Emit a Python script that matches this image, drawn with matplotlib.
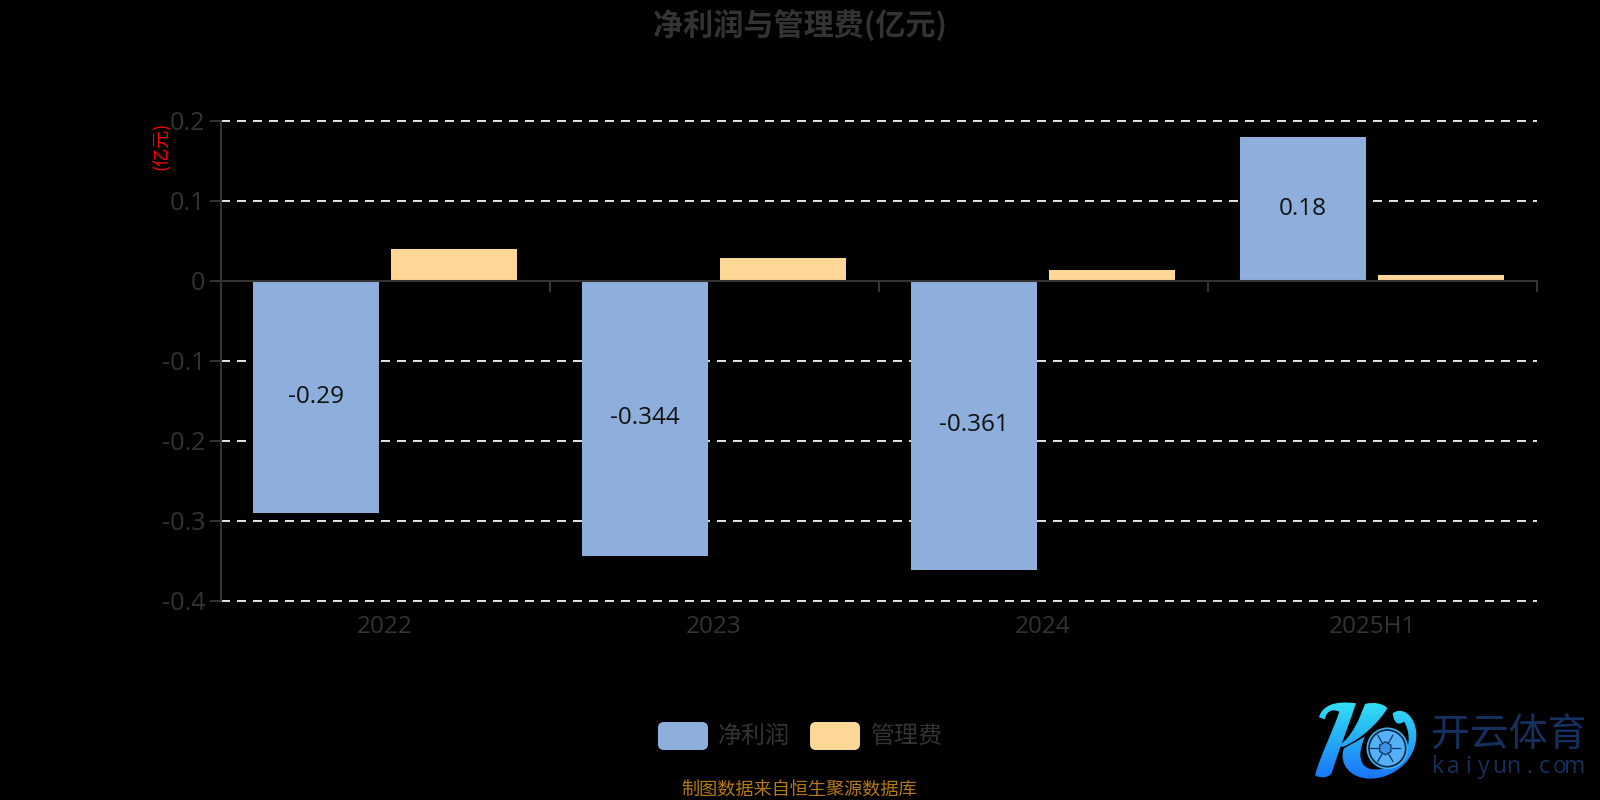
import matplotlib
matplotlib.use("Agg")
import matplotlib.pyplot as plt
from matplotlib.patches import FancyBboxPatch, Circle, RegularPolygon, PathPatch
from matplotlib.path import Path
import numpy as np

LATIN = ['Open Sans', 'Noto Sans CJK SC', 'DejaVu Sans']
CJK = ['Noto Sans CJK SC', 'DejaVu Sans']
plt.rcParams['font.family'] = LATIN

categories = ['2022', '2023', '2024', '2025H1']
net_profit = [-0.29, -0.344, -0.361, 0.18]
admin_fee = [0.04, 0.028, 0.014, 0.007]
series_names = ['净利润', '管理费']
yticks = [0.2, 0.1, 0, -0.1, -0.2, -0.3, -0.4]
ytick_labels = ['0.2', '0.1', '0', '-0.1', '-0.2', '-0.3', '-0.4']
title = '净利润与管理费(亿元)'
unit = '(亿元)'
source = '制图数据来自恒生聚源数据库'

W, H = 1600, 800
BLUE, ORANGE = '#8eaedb', '#ffd797'
GREY = '#333333'
fig = plt.figure(figsize=(16, 8), dpi=100, facecolor='black')
L, R, T, B = 220.6, 1536.6, 120.7, 600.7
ax = fig.add_axes([L / W, 1 - B / H, (R - L) / W, (B - T) / H], facecolor='black')
ax.set_xlim(0, 4)
ax.set_ylim(-0.4, 0.2)

x = np.arange(4)
bw = 125.5 / 329
gap = 12.5 / 329
ax.bar(x + 0.5 - gap / 2 - bw / 2, net_profit, bw, color=BLUE, zorder=3)
ax.bar(x + 0.5 + gap / 2 + bw / 2, admin_fee, bw, color=ORANGE, zorder=3)

for xi, v in zip(x, net_profit):
    ax.text(xi + 0.5 - gap / 2 - bw / 2, v / 2, str(v), ha='center', va='center',
            fontsize=17.5, color='#111111', zorder=4)

ax.set_yticks(yticks)
ax.set_yticklabels(ytick_labels, fontsize=18.2, color=GREY)
ax.set_xticks(x + 0.5)
ax.set_xticklabels(categories, fontsize=17.5, color=GREY)
ax.tick_params(axis='x', length=0, pad=10.5)
ax.tick_params(axis='y', length=8, width=1.5, color=GREY, pad=3)
for v in [1, 2, 3, 4]:
    ax.plot([v, v], [0, -0.0125], color=GREY, lw=1.5, zorder=2, clip_on=False)
for v in yticks:
    if v != 0:
        ax.axhline(v, color='#dddddd', lw=1.44, dashes=(4.5, 3.5), zorder=1, clip_on=False)
ax.axhline(0, color=GREY, lw=1.5, zorder=4)
for s in ['top', 'right', 'bottom']:
    ax.spines[s].set_visible(False)
ax.spines['left'].set_color(GREY)
ax.spines['left'].set_linewidth(1.5)

def fx(px): return px / W
def fy(py): return 1 - py / H

fig.text(fx(800), fy(25.5), title, ha='center', va='center', fontsize=21.7,
         fontweight='bold', color=GREY, family=CJK)
fig.text(fx(161), fy(146), unit, ha='center', va='center', rotation=90,
         fontsize=13, color='#ff0000', family=CJK)
fig.text(fx(799.5), fy(791), source, ha='center', va='center', fontsize=13.1, color='#b57a14', family=CJK)

# overlay in pixel coordinates for legend keys and logo
ov = fig.add_axes([0, 0, 1, 1], facecolor='none')
ov.set_xlim(0, W)
ov.set_ylim(H, 0)
ov.axis('off')

for px, col, name in [(658, BLUE, series_names[0]), (810, ORANGE, series_names[1])]:
    ov.add_patch(FancyBboxPatch((px + 5, 722 + 5), 40, 18,
                                boxstyle='round,pad=5,rounding_size=6', fc=col, ec='none'))
    fig.text(fx(px + 60), fy(736), name, ha='left', va='center', fontsize=17.3, color=GREY, family=CJK)

# logo wordmark
fig.text(fx(1431), fy(735), '开云体育', ha='left', va='center', fontsize=28,
         color='#15305f', family=CJK)
for i, ch in enumerate('kaiyun.com'):
    fig.text(fx(1438 + i * 15.2), fy(767), ch, ha='center', va='center', fontsize=16.5,
             color='#15305f', family='Open Sans')

# logo mark: zoom-crop coordinates mapped to pixels
def lp(xz, yz): return (1250 + xz / 3, 680 + yz / 3)
def make_path(spec):
    verts, codes = [], []
    for cmd, pts in spec:
        for p in pts:
            verts.append(lp(*p))
        codes += {'M': [Path.MOVETO], 'L': [Path.LINETO], 'C': [Path.CURVE4] * 3}[cmd]
    verts.append(verts[0]); codes.append(Path.CLOSEPOLY)
    return Path(verts, codes)

stem = make_path([('M', [(207, 112)]), ('C', [(215, 80), (250, 60), (318, 70)]),
                  ('C', [(300, 125), (270, 200), (245, 280)]),
                  ('C', [(235, 295), (205, 295), (195, 285)]),
                  ('C', [(210, 230), (250, 150), (268, 95)]),
                  ('C', [(245, 85), (228, 95), (225, 118)])])
arm = make_path([('M', [(262, 200)]), ('C', [(310, 170), (330, 110), (345, 72)]),
                 ('C', [(370, 65), (400, 70), (412, 85)]),
                 ('C', [(385, 130), (330, 180), (280, 200)])])
leg = make_path([('M', [(282, 205)]), ('C', [(265, 250), (300, 296), (360, 296)]),
                 ('C', [(430, 296), (502, 240), (499, 160)]),
                 ('C', [(496, 105), (455, 78), (428, 100)]),
                 ('C', [(432, 130), (445, 138), (462, 125)]),
                 ('C', [(478, 150), (482, 190), (465, 220)]),
                 ('C', [(440, 262), (400, 270), (365, 268)]),
                 ('C', [(330, 262), (320, 225), (345, 170)])])
grad = np.linspace(0, 1, 256)[:, None]
c_top, c_bot = np.array([0.20, 0.90, 0.95]), np.array([0.10, 0.45, 0.98])
rgb = (c_top[None, None, :] * (1 - grad[:, :, None]) + c_bot[None, None, :] * grad[:, :, None])
x0, y0 = lp(190, 60)
x1, y1 = lp(505, 298)
for pth in (stem, arm, leg):
    im = ov.imshow(rgb, extent=(x0, x1, y1, y0), aspect='auto', zorder=5)
    patch = PathPatch(pth, fc='none', ec='none', transform=ov.transData)
    ov.add_patch(patch)
    im.set_clip_path(patch)
ov.set_xlim(0, W)
ov.set_ylim(H, 0)

cx, cy = lp(412, 205)
ov.add_patch(Circle((cx, cy), 20, fc='#06224a', ec='#3fb4e8', lw=1.2, zorder=6))
ov.add_patch(Circle((cx, cy), 17.5, fc='#55b0f5', ec='none', zorder=7))
ov.add_patch(RegularPolygon((cx - 2, cy), 6, radius=6.5, fc='#3f93e6', ec='#0d3566', lw=0.9, zorder=8))
for ang in np.deg2rad([30, 90, 150, 210, 270, 330]):
    ov.plot([cx - 2 + 6.5 * np.sin(ang), cx - 2 + 15 * np.sin(ang)],
            [cy - 6.5 * np.cos(ang), cy - 15 * np.cos(ang)], color='#0d3566', lw=0.9, zorder=8)

fig.savefig('out.png', dpi=100, facecolor='black')
